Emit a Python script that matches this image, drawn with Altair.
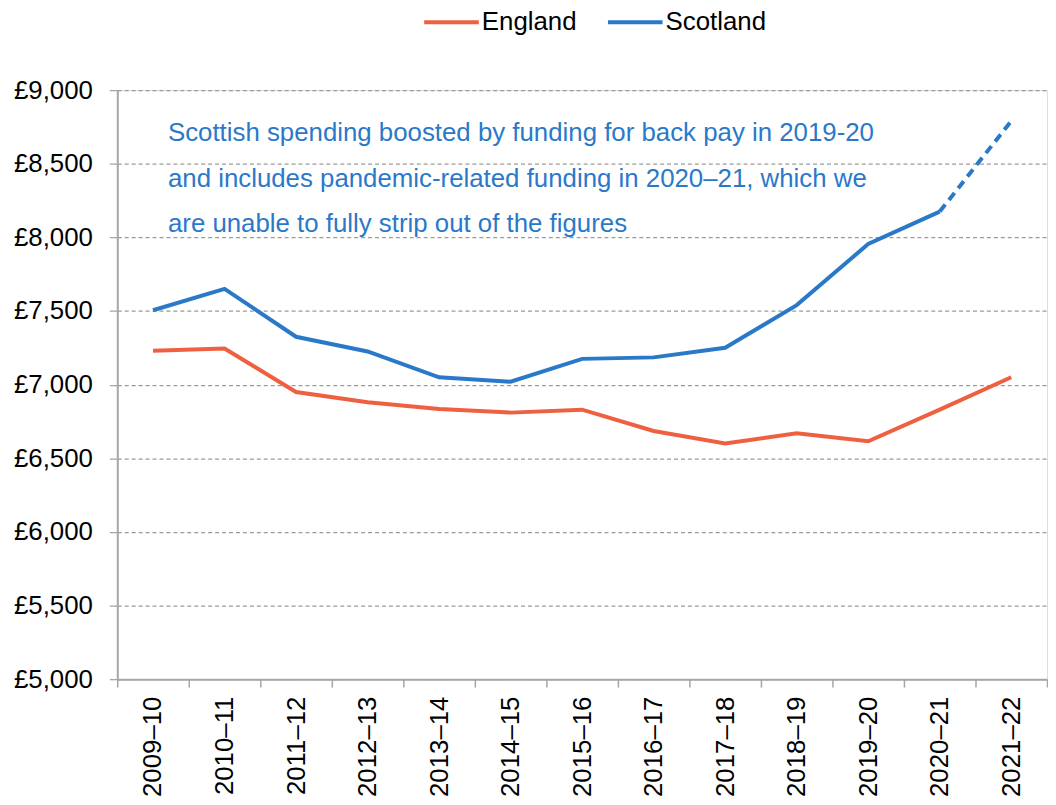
import altair as alt
import pandas as pd

years = ["2009–10", "2010–11", "2011–12", "2012–13", "2013–14", "2014–15", "2015–16",
         "2016–17", "2017–18", "2018–19", "2019–20", "2020–21", "2021–22"]
england = [7230, 7245, 6950, 6880, 6835, 6810, 6830, 6685, 6600, 6670, 6615, 6830, 7050]
scotland = [7505, 7650, 7325, 7225, 7050, 7020, 7175, 7185, 7250, 7540, 7955, 8175]
scotland_dashed_years = ["2020–21", "2021–22"]
scotland_dashed = [8175, 8790]
note_lines = [
    "Scottish spending boosted by funding for back pay in 2019-20",
    "and includes pandemic-related funding in 2020–21, which we",
    "are unable to fully strip out of the figures",
]
note_y = [8710, 8395, 8090]
y_ticks = [5000, 5500, 6000, 6500, 7000, 7500, 8000, 8500, 9000]

ORANGE = "#EE6040"
BLUE = "#2A79C9"
FONT = "Liberation Sans"

rows = [{"year": y, "series": "England", "value": v} for y, v in zip(years, england)]
rows += [{"year": y, "series": "Scotland", "value": v} for y, v in zip(years, scotland)]
df = pd.DataFrame(rows)
dash_df = pd.DataFrame({"year": scotland_dashed_years, "value": scotland_dashed})
note_df = pd.DataFrame({"year": [years[0]] * 3, "value": note_y, "text": note_lines})

x_scale = alt.Scale(type="band", domain=years, paddingInner=0, paddingOuter=0)
y_scale = alt.Scale(domain=[5000, 9000], nice=False, zero=False)

x_enc = alt.X(
    "year:N", sort=years, scale=x_scale, bandPosition=0.5, title=None,
    axis=alt.Axis(labelAngle=270, tickBand="extent", grid=False, labelPadding=9,
                  tickSize=8, domainColor="#A6A6A6", tickColor="#A6A6A6",
                  domainWidth=2, tickWidth=1.5, labelFontSize=26, labelColor="black",
                  labelFont=FONT),
)
y_enc = alt.Y(
    "value:Q", scale=y_scale, title=None,
    axis=alt.Axis(values=y_ticks, labelExpr="'£' + format(datum.value, ',')",
                  grid=True, gridDash=[4, 3], gridColor="#9A9A9A", gridWidth=1.3,
                  domainColor="#A6A6A6", domainWidth=2, tickColor="#A6A6A6",
                  tickSize=8, tickWidth=1.3, labelPadding=17, labelFontSize=26,
                  labelColor="black", labelFont=FONT),
)

lines = alt.Chart(df).mark_line(strokeWidth=4).encode(
    x=x_enc,
    y=y_enc,
    color=alt.Color(
        "series:N",
        scale=alt.Scale(domain=["England", "Scotland"], range=[ORANGE, BLUE]),
        legend=alt.Legend(orient="none", legendX=307, legendY=-98, direction="horizontal",
                          title=None, symbolType="stroke", symbolSize=3025,
                          symbolStrokeWidth=4, labelFontSize=26, labelFont=FONT,
                          labelColor="black", labelOffset=1, columnPadding=23, padding=0),
    ),
)

dashed = alt.Chart(dash_df).mark_line(strokeWidth=4, strokeDash=[9, 6], color=BLUE).encode(
    x=alt.X("year:N", sort=years, scale=x_scale, bandPosition=0.5),
    y=alt.Y("value:Q", scale=y_scale),
)

notes = alt.Chart(note_df).mark_text(
    align="left", baseline="middle", dx=15, fontSize=26, font=FONT, color=BLUE
).encode(
    x=alt.X("year:N", sort=years, scale=x_scale, bandPosition=0.5),
    y=alt.Y("value:Q", scale=y_scale),
    text="text:N",
)

chart = (
    alt.layer(lines, dashed, notes)
    .properties(width=936, height=593,
                padding={"left": 5, "top": -18, "right": 0, "bottom": 0})
    .configure_view(stroke=None)
    .configure(background="white")
)

chart.save("out.html", embed_options={"renderer": "svg", "actions": False})
